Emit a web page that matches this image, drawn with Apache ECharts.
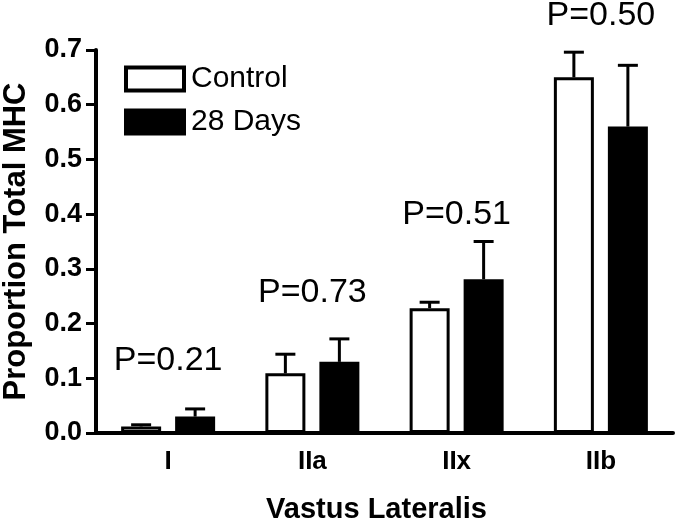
<!DOCTYPE html>
<html>
<head>
<meta charset="utf-8">
<script src="https://cdn.jsdelivr.net/npm/echarts@6/dist/echarts.min.js"></script>
<style>
  html, body { margin: 0; padding: 0; background: #fff; }
  #chart { width: 675px; height: 520px; }
</style>
</head>
<body>
<div id="chart"></div>
<script>
const categories = ['I', 'IIa', 'IIx', 'IIb']
const control = [0.012, 0.109, 0.228, 0.650]
const controlErr = [0.003, 0.035, 0.011, 0.046]
const days28 = [0.030, 0.130, 0.281, 0.560]
const days28Err = [0.014, 0.042, 0.069, 0.112]
const pTexts = ['P=0.21', 'P=0.73', 'P=0.51', 'P=0.50']
const pHeights = [0.133, 0.256, 0.399, 0.762]
const yTicks = [0, 0.1, 0.2, 0.3, 0.4, 0.5, 0.6, 0.7]

const font = 'Liberation Sans, Arial, sans-serif'
const chart = echarts.init(document.getElementById('chart'))

// one-sided error bar (stem + cap) next to each bar
function errRender(offset) {
  return function (params, api) {
    const i = api.value(0)
    const v = api.value(1)
    const e = api.value(2)
    const base = api.coord([i, v])
    const top = api.coord([i, v + e])
    const cx = base[0] + offset
    const st = { stroke: '#000', lineWidth: 3 }
    return {
      type: 'group',
      children: [
        { type: 'line', shape: { x1: cx, y1: base[1], x2: cx, y2: top[1] }, style: st },
        { type: 'line', shape: { x1: cx - 10, y1: top[1], x2: cx + 10, y2: top[1] }, style: st }
      ]
    }
  }
}

const option = {
  animation: false,
  backgroundColor: '#fff',
  grid: { left: 96, right: 2, top: 50, bottom: 87, outerBoundsMode: 'none' },
  legend: {
    orient: 'vertical',
    left: 124,
    top: 64,
    padding: 0,
    icon: 'rect',
    itemWidth: 58,
    itemHeight: 23,
    itemGap: 13,
    data: ['Control', '28 Days'],
    itemStyle: { borderWidth: 4 },
    textStyle: { color: '#000', fontSize: 30, fontFamily: font, padding: [0, 0, 0, 2] }
  },
  xAxis: {
    type: 'category',
    data: categories,
    name: 'Vastus Lateralis',
    nameLocation: 'middle',
    nameGap: 62,
    nameTextStyle: { color: '#000', fontSize: 29, fontWeight: 'bold', fontFamily: font, padding: [0, 16, 0, 0] },
    axisLine: { lineStyle: { color: '#000', width: 4 } },
    axisTick: { alignWithLabel: true, length: 10, lineStyle: { color: '#000', width: 3 } },
    axisLabel: { color: '#000', fontSize: 26, fontWeight: 'bold', fontFamily: font, margin: 16 }
  },
  yAxis: {
    type: 'value',
    min: 0,
    max: 0.7,
    interval: 0.1,
    name: 'Proportion Total MHC',
    nameLocation: 'middle',
    nameGap: 64,
    nameTextStyle: { color: '#000', fontSize: 31, fontWeight: 'bold', fontFamily: font },
    axisLine: { show: true, lineStyle: { color: '#000', width: 4 } },
    axisTick: { show: true, length: 10, lineStyle: { color: '#000', width: 3 } },
    splitLine: { show: false },
    axisLabel: {
      color: '#000',
      fontSize: 27,
      fontWeight: 'bold',
      fontFamily: font,
      margin: 14,
      formatter: v => yTicks.includes(Math.round(v * 10) / 10) ? v.toFixed(1) : ''
    }
  },
  series: [
    {
      name: 'Control',
      type: 'bar',
      barWidth: 40,
      barGap: '35%',
      data: control,
      itemStyle: { color: '#fff', borderColor: '#000', borderWidth: 3 }
    },
    {
      name: '28 Days',
      type: 'bar',
      barWidth: 40,
      barGap: '35%',
      data: days28,
      itemStyle: { color: '#000', borderColor: '#000', borderWidth: 3 }
    },
    {
      type: 'custom',
      renderItem: errRender(-27),
      data: categories.map((c, i) => [i, control[i], controlErr[i]]),
      z: 3
    },
    {
      type: 'custom',
      renderItem: errRender(27),
      data: categories.map((c, i) => [i, days28[i], days28Err[i]]),
      z: 3
    },
    {
      type: 'custom',
      renderItem: function (params, api) {
        const p = api.coord([api.value(0), api.value(1)])
        return {
          type: 'text',
          style: {
            x: p[0],
            y: p[1],
            text: pTexts[params.dataIndex],
            fill: '#000',
            font: '34px ' + font,
            align: 'center',
            verticalAlign: 'middle'
          }
        }
      },
      data: categories.map((c, i) => [i, pHeights[i]]),
      z: 4
    }
  ]
}

chart.setOption(option)
</script>
</body>
</html>
